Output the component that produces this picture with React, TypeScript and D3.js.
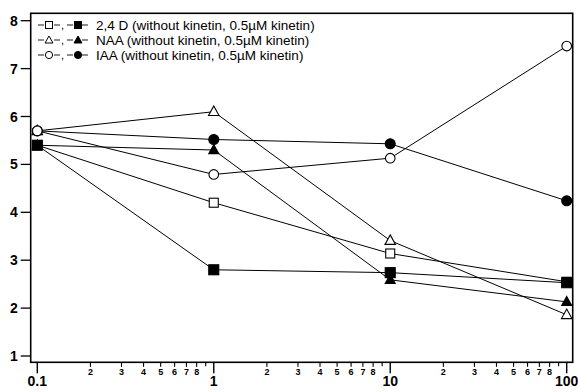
import React from "react";
import * as d3 from "d3";

const concentrations = [0.1, 1, 10, 100];
const d24Open = [5.4, 4.2, 3.14, 2.55];
const d24Filled = [5.4, 2.8, 2.74, 2.53];
const naaOpen = [5.7, 6.1, 3.41, 1.86];
const naaFilled = [5.4, 5.3, 2.59, 2.13];
const iaaOpen = [5.7, 4.79, 5.13, 7.47];
const iaaFilled = [5.7, 5.52, 5.43, 4.24];
const yTicks = [1, 2, 3, 4, 5, 6, 7, 8];
const majorX = [0.1, 1, 10, 100];
const minorDigits = [2, 3, 4, 5, 6, 7, 8, 9];
const legendLabels = [
  "2,4 D (without kinetin, 0.5\u00b5M kinetin)",
  "NAA (without kinetin, 0.5\u00b5M kinetin)",
  "IAA (without kinetin, 0.5\u00b5M kinetin)",
];

type Shape = "square" | "triangle" | "circle";

const series: { values: number[]; shape: Shape; filled: boolean }[] = [
  { values: iaaFilled, shape: "circle", filled: true },
  { values: naaFilled, shape: "triangle", filled: true },
  { values: naaOpen, shape: "triangle", filled: false },
  { values: iaaOpen, shape: "circle", filled: false },
  { values: d24Open, shape: "square", filled: false },
  { values: d24Filled, shape: "square", filled: true },
];

function Marker({ x, y, shape, filled }: { x: number; y: number; shape: Shape; filled: boolean }) {
  const fill = filled ? "#000" : "#fff";
  const sw = 1.1;
  if (shape === "square") {
    const s = filled ? 10 : 9;
    return <rect x={x - s / 2} y={y - s / 2} width={s} height={s} fill={fill} stroke="#000" strokeWidth={sw} />;
  }
  if (shape === "circle") {
    return <circle cx={x} cy={y} r={filled ? 5 : 4.8} fill={fill} stroke="#000" strokeWidth={sw} />;
  }
  const h = filled ? 9 : 9.5;
  const w = filled ? 10 : 10.5;
  const p = `M${x},${y - h * 0.6} L${x + w / 2},${y + h * 0.4} L${x - w / 2},${y + h * 0.4} Z`;
  return <path d={p} fill={fill} stroke="#000" strokeWidth={sw} strokeLinejoin="miter" />;
}

function LegendMarker({ x, y, shape, filled }: { x: number; y: number; shape: Shape; filled: boolean }) {
  const fill = filled ? "#000" : "#fff";
  if (shape === "square") {
    const s = 7;
    return <rect x={x - s / 2} y={y - s / 2} width={s} height={s} fill={fill} stroke="#000" strokeWidth={1} />;
  }
  if (shape === "circle") {
    return <circle cx={x} cy={y} r={3.6} fill={fill} stroke="#000" strokeWidth={1} />;
  }
  const p = `M${x},${y - 4} L${x + 4},${y + 3} L${x - 4},${y + 3} Z`;
  return <path d={p} fill={fill} stroke="#000" strokeWidth={1} />;
}

export default function App() {
  const W = 578;
  const H = 392;
  const x = d3.scaleLog().domain([0.1, 100]).range([37.3, 566.7]);
  const y = d3.scaleLinear().domain([1, 8]).range([356, 20.7]);
  const frame = { l: 30.7, r: 572.7, t: 13.3, b: 362.3 };
  const line = d3
    .line<number>()
    .x((_, i) => x(concentrations[i]))
    .y((d) => y(d));

  const minorTicks: { v: number; d: number }[] = [];
  for (let dec = 0.1; dec < 100; dec *= 10) {
    minorDigits.forEach((d) => minorTicks.push({ v: +(dec * d).toPrecision(3), d }));
  }

  const legendShapes: Shape[] = ["square", "triangle", "circle"];
  const legendY = [25, 40, 55];

  return (
    <svg
      width={W}
      height={H}
      style={{ position: "absolute", left: 0, top: 0, background: "#fff" }}
      fontFamily="'Liberation Sans', Arial, Helvetica, sans-serif"
    >
      <rect x={0} y={0} width={W} height={H} fill="#fff" />
      <rect
        x={frame.l}
        y={frame.t}
        width={frame.r - frame.l}
        height={frame.b - frame.t}
        fill="none"
        stroke="#000"
        strokeWidth={1.6}
      />
      {yTicks.map((t) => (
        <g key={"y" + t}>
          <line x1={frame.l - 10} x2={frame.l} y1={y(t)} y2={y(t)} stroke="#000" strokeWidth={1.3} />
          <text x={frame.l - 13} y={y(t)} dy="0.36em" textAnchor="end" fontSize={14} fontWeight="bold">
            {t}
          </text>
        </g>
      ))}
      {majorX.map((t) => (
        <g key={"x" + t}>
          <line x1={x(t)} x2={x(t)} y1={frame.b} y2={frame.b + 11} stroke="#000" strokeWidth={1.4} />
          <text x={x(t)} y={frame.b + 24} textAnchor="middle" fontSize={14} fontWeight="bold">
            {t}
          </text>
        </g>
      ))}
      {minorTicks.map((m) => (
        <g key={"m" + m.v}>
          <line x1={x(m.v)} x2={x(m.v)} y1={frame.b} y2={frame.b + (m.d === 9 ? 4 : 4.5)} stroke="#000" strokeWidth={1.1} />
          {m.d !== 9 && (
            <text x={x(m.v)} y={frame.b + 13} textAnchor="middle" fontSize={9} fontWeight="bold">
              {m.d}
            </text>
          )}
        </g>
      ))}
      {series.map((s, i) => (
        <path key={"l" + i} d={line(s.values) || ""} fill="none" stroke="#000" strokeWidth={1} />
      ))}
      {series.map((s, i) =>
        s.values.map((v, j) => (
          <Marker key={"p" + i + "-" + j} x={x(concentrations[j])} y={y(v)} shape={s.shape} filled={s.filled} />
        ))
      )}
      {legendLabels.map((lab, i) => {
        const ly = legendY[i];
        return (
          <g key={"lg" + i}>
            <line x1={38} x2={44} y1={ly} y2={ly} stroke="#000" strokeWidth={0.9} />
            <LegendMarker x={49} y={ly} shape={legendShapes[i]} filled={false} />
            <line x1={54} x2={60} y1={ly} y2={ly} stroke="#000" strokeWidth={0.9} />
            <text x={61} y={ly + 4} fontSize={11}>,</text>
            <line x1={67} x2={73} y1={ly} y2={ly} stroke="#000" strokeWidth={0.9} />
            <LegendMarker x={78} y={ly} shape={legendShapes[i]} filled={true} />
            <line x1={82} x2={88} y1={ly} y2={ly} stroke="#000" strokeWidth={0.9} />
            <text x={96} y={ly} dy="0.36em" fontSize={13.5}>
              {lab}
            </text>
          </g>
        );
      })}
    </svg>
  );
}
